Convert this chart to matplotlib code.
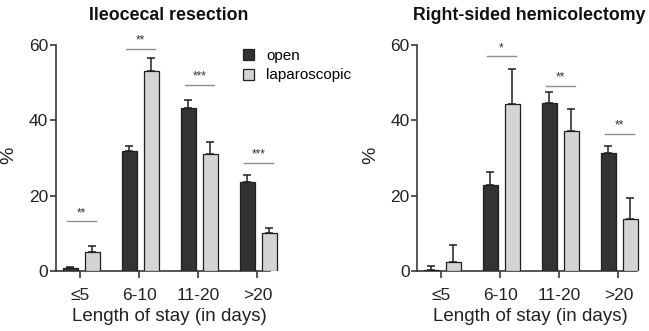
import matplotlib
matplotlib.use("Agg")
import matplotlib.pyplot as plt
from matplotlib.patches import Patch
import numpy as np

plt.rcParams['font.family'] = ['Liberation Sans', 'DejaVu Sans']

categories = ["≤5", "6-10", "11-20", ">20"]
series_names = ["open", "laparoscopic"]

# Ileocecal resection
ileo_open = [0.7, 31.9, 43.1, 23.7]
ileo_open_err = [0.4, 1.3, 2.3, 1.8]
ileo_lap = [5.0, 52.9, 31.1, 10.1]
ileo_lap_err = [1.5, 3.5, 3.1, 1.2]
ileo_sig = ["**", "**", "***", "***"]
ileo_sig_y = [13.2, 58.9, 49.3, 28.6]

# Right-sided hemicolectomy
rhc_open = [0.3, 22.7, 44.6, 31.3]
rhc_open_err = [0.9, 3.6, 2.8, 1.8]
rhc_lap = [2.5, 44.3, 37.1, 13.9]
rhc_lap_err = [4.4, 9.3, 5.8, 5.4]
rhc_sig = ["", "*", "**", "**"]
rhc_sig_y = [None, 56.9, 49.1, 36.4]

titles = ["Ileocecal resection", "Right-sided hemicolectomy"]
yticks = [0, 20, 40, 60]

W, H = 649, 331
fig = plt.figure(figsize=(W / 100, H / 100), dpi=100)

dark = "#333333"
light = "#d4d4d4"
edge = "#1f1f1f"
spine_c = "#3a3a3a"

def px_axes(x0, x1, y0=44.7, y1=271.0):
    return [x0 / W, 1 - y1 / H, (x1 - x0) / W, (y1 - y0) / H]

unit = 59.0
axL = fig.add_axes(px_axes(55.7, 55.7 + unit * 3.84))
axR = fig.add_axes(px_axes(417.3, 417.3 + unit * 3.83))

panels = [
    (axL, ileo_open, ileo_open_err, ileo_lap, ileo_lap_err, ileo_sig, ileo_sig_y, (-0.42, 3.42), (-0.42, 3.22)),
    (axR, rhc_open, rhc_open_err, rhc_lap, rhc_lap_err, rhc_sig, rhc_sig_y, (-0.41, 3.42), (-0.41, 3.32)),
]

x = np.arange(len(categories))
bw = 0.245
off_open, off_lap = -0.17, 0.20

for ax, o, oe, l, le, sig, sigy, xl, xb in panels:
    ax.bar(x + off_open, o, width=bw, color=dark, edgecolor=edge, linewidth=0.9,
           yerr=[np.zeros(len(o)), oe], capsize=3,
           error_kw=dict(ecolor=edge, elinewidth=1.1, capthick=1.1), zorder=3)
    ax.bar(x + off_lap, l, width=bw, color=light, edgecolor=edge, linewidth=0.9,
           yerr=[np.zeros(len(l)), le], capsize=3,
           error_kw=dict(ecolor=edge, elinewidth=1.1, capthick=1.1), zorder=3)
    for xi, s, sy in zip(x, sig, sigy):
        if not s:
            continue
        ax.plot([xi - 0.23, xi + 0.26], [sy, sy], color="#8f8f8f", lw=1.0,
                clip_on=False, zorder=4)
        ax.text(xi + 0.015, sy + 0.6, s, ha="center", va="bottom", fontsize=8.5,
                color="#333333", clip_on=False)
    ax.set_xlim(*xl)
    ax.set_ylim(0, 60)
    ax.set_xticks(x)
    ax.set_xticklabels(categories)
    ax.set_yticks(yticks)
    for sp in ["top", "right"]:
        ax.spines[sp].set_visible(False)
    for sp in ["left", "bottom"]:
        ax.spines[sp].set_color(spine_c)
        ax.spines[sp].set_linewidth(1.2)
    ax.spines["bottom"].set_bounds(*xb)
    ax.tick_params(axis="x", length=5, width=1.2, color=spine_c, pad=7,
                   labelsize=12.5, labelcolor="#222222")
    ax.tick_params(axis="y", length=4.5, width=1.2, color=spine_c, pad=1,
                   labelsize=12.5, labelcolor="#222222")
    ax.set_xlabel("Length of stay (in days)", fontsize=13.5, color="#222222", labelpad=4)
    ax.patch.set_visible(False)

fig.text(9 / W, 1 - 155 / H, "%", rotation=90, ha="center", va="center",
         fontsize=14, color="#222222")
fig.text(371 / W, 1 - 155 / H, "%", rotation=90, ha="center", va="center",
         fontsize=14, color="#222222")

fig.text(169 / W, 1 - 19.5 / H, titles[0], ha="center", va="baseline",
         fontsize=12.8, fontweight="bold", color="#111111")
fig.text(529.5 / W, 1 - 19.5 / H, titles[1], ha="center", va="baseline",
         fontsize=12.8, fontweight="bold", color="#111111")

handles = [Patch(facecolor=dark, edgecolor=edge, linewidth=0.9),
           Patch(facecolor=light, edgecolor=edge, linewidth=0.9)]
fig.legend(handles, series_names, loc="upper left",
           bbox_to_anchor=(238 / W, 1 - 44.5 / H), bbox_transform=fig.transFigure,
           frameon=False, fontsize=11, handlelength=0.75, handleheight=0.75,
           handletextpad=0.8, labelspacing=0.35, borderpad=0.3, borderaxespad=0)

fig.savefig("out.png", dpi=100)
